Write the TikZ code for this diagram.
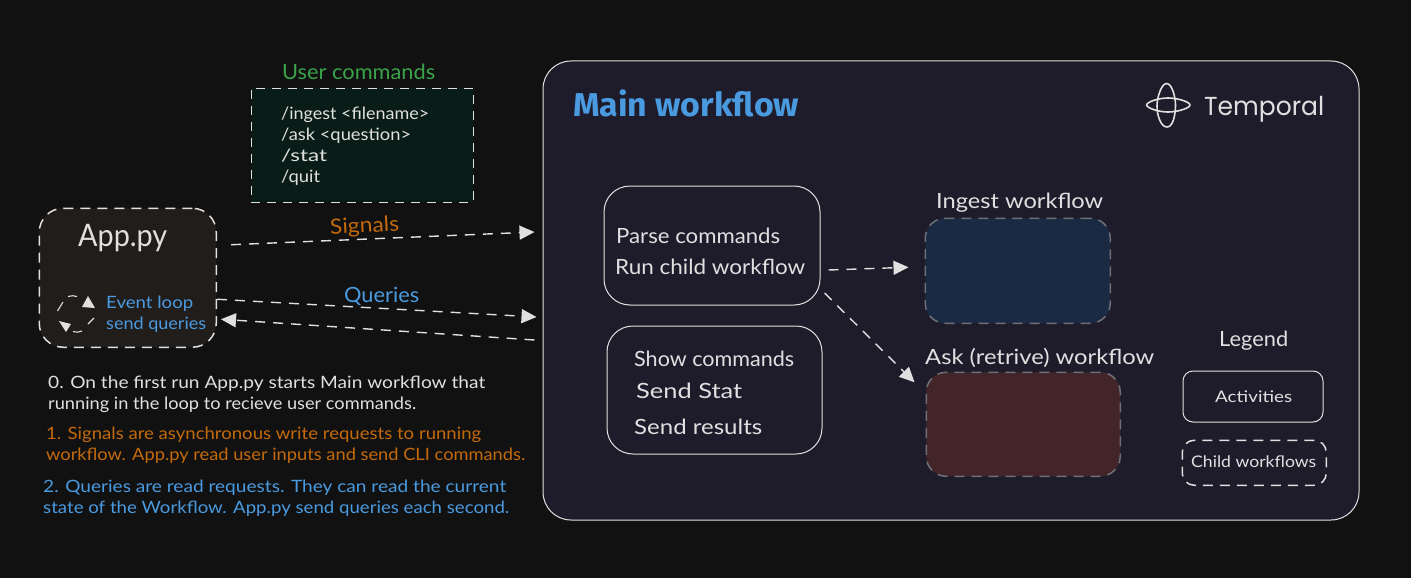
\documentclass[tikz,border=0pt]{standalone}
\usepackage{fontspec}
\usepackage{graphicx}
\setmainfont{Lato}
\newfontfamily\logofont{Poppins}
\newfontfamily\headfont{Fira Sans}
\usetikzlibrary{arrows.meta,calc}
\definecolor{bgc}{HTML}{111111}
\definecolor{ink}{HTML}{E0E0E0}
\definecolor{mainfill}{HTML}{1E1C2B}
\definecolor{appfill}{HTML}{211D1B}
\definecolor{cmdfill}{HTML}{0A1C17}
\definecolor{ingfill}{HTML}{1A2A42}
\definecolor{askfill}{HTML}{432529}
\definecolor{dashgray}{HTML}{6E7078}
\definecolor{blue}{HTML}{4A9AE0}
\definecolor{orange}{HTML}{C46A0C}
\definecolor{green}{HTML}{3AA34A}
\newcommand{\fw}[2]{\resizebox{#1pt}{\height}{\rule[-.25em]{0pt}{1em}#2}}
\tikzset{
  x=1pt,y=-1pt,
  box/.style={draw=ink,line width=1pt,rounded corners=26pt,anchor=north west,inner sep=0pt},
  dbox/.style={draw=ink,line width=1.5pt,dash pattern=on 10pt off 7pt,anchor=north west,inner sep=0pt},
  lbl/.style={anchor=west,inner sep=0pt,text=ink,yshift=-1pt},
  fs/.style={font=\fontsize{#1}{#1}\selectfont},
  conn/.style={draw=ink,line width=1.4pt,dash pattern=on 10pt off 8pt,
    -{Triangle[length=15pt,width=14pt,fill=ink,sep=0pt]}},
}
\begin{document}
\begin{tikzpicture}
\useasboundingbox (0,0) rectangle (1411,578);
\fill[bgc] (0,0) rectangle (1411,578);

% containers
\node[box,fill=mainfill,minimum width=816pt,minimum height=459pt,rounded corners=28pt] (main) at (542.5,60.5) {};
\node[dbox,fill=appfill,minimum width=177pt,minimum height=139pt,rounded corners=24pt] (app) at (38.5,207.5) {};
\node[dbox,dash pattern=on 9pt off 7pt,fill=cmdfill,minimum width=222pt,minimum height=114pt] (cmds) at (250.5,87.5) {};
\node[box,minimum width=216pt,minimum height=119pt] (parse) at (603.5,185.5) {};
\node[box,minimum width=215pt,minimum height=128pt] (show) at (606.5,325.5) {};
\node[dbox,draw=dashgray,fill=ingfill,minimum width=185pt,minimum height=105pt,rounded corners=20pt] (ingest) at (924.5,217.5) {};
\node[dbox,draw=dashgray,fill=askfill,minimum width=194pt,minimum height=104pt,rounded corners=20pt] (ask) at (925.5,371.5) {};
\node[box,minimum width=140pt,minimum height=51pt,rounded corners=10pt] (activities) at (1182.5,370.5) {};
\node[dbox,minimum width=144pt,minimum height=45pt,rounded corners=12pt] (child) at (1181.5,439.5) {};

% connectors
\draw[conn] ([shift={(14,-33)}]app.east) -- ([shift={(-8,-58.5)}]main.west);
\draw[conn] ([shift={(0,21.5)}]app.east) -- ([shift={(-6,26.5)}]main.west);
\draw[conn] ([shift={(-8,49.5)}]main.west) -- ([shift={(4,41.5)}]app.east);
\draw[conn] ([shift={(8,24.5)}]parse.east) -- ([shift={(-16,-3.5)}]ingest.west);
\draw[conn] ([shift={(4,47.5)}]parse.east) -- ([shift={(-11,-42)}]ask.west);

% event loop icon
\begin{scope}[draw=ink,line width=1.1pt]
\draw (57.5,311) -- (63,302);
\draw (68,296.5) .. controls (71,295.5) and (74,295.5) .. (77,296.5);
\draw (88,324) -- (94,318);
\draw (73,331.5) .. controls (76,332.5) and (79,332.5) .. (82,331);
\end{scope}
\fill[ink] (82,307) -- (95,308) -- (88,296) -- cycle;
\fill[ink] (59,321) -- (71,324) -- (66,332) -- cycle;

% logo
\begin{scope}[draw=ink,line width=1.6pt,line join=round]
\draw (1166.5,83.5) .. controls (1161,84) and (1157,98) .. (1157,106)
  .. controls (1157,116) and (1161,127) .. (1167,127)
  .. controls (1173,127) and (1175.5,115) .. (1175.5,105)
  .. controls (1175.5,97) and (1172,83.5) .. (1166.5,83.5) -- cycle;
\draw (1146.5,105) .. controls (1147,102) and (1158,98) .. (1168,98)
  .. controls (1178,98) and (1190,102) .. (1190,105)
  .. controls (1190,108) and (1178,112) .. (1168,112)
  .. controls (1158,112) and (1147,108) .. (1146.5,105) -- cycle;
\end{scope}
\node[lbl,fs=26] (temporal) at (1204,108) {\logofont\fw{120}{Temporal}};

% labels
\node[lbl,fs=21,text=green] (tcmd) at (282,73) {\fw{153}{User commands}};
\node[lbl,fs=17] (c1) at (281,114) {\fw{148}{/ingest <filename>}};
\node[lbl,fs=17] (c2) at (281,135) {\fw{130}{/ask <question>}};
\node[lbl,fs=17] (c3) at (281,156) {\fw{46}{/stat}};
\node[lbl,fs=17] (c4) at (281,177) {\fw{39}{/quit}};
\node[lbl,fs=31] (tapp) at (78,238) {\fw{89}{App.py}};
\node[lbl,fs=17,text=blue] (tev) at (106,303) {\fw{87}{Event loop}};
\node[lbl,fs=17,text=blue] (tsq) at (106,324) {\fw{100}{send queries}};
\node[lbl,fs=21,text=orange,rotate=3] (tsig) at (330,228) {\fw{69}{Signals}};
\node[lbl,fs=21,text=blue] (tq) at (344,296) {\fw{75}{Queries}};
\node[lbl,fs=33,text=blue] (tmain) at (573,106) {\headfont\bfseries\fw{226}{Main workflow}};
\node[lbl,fs=21] (p1) at (616,237) {\fw{164}{Parse commands}};
\node[lbl,fs=21] (p2) at (615,268) {\fw{190}{Run child workflow}};
\node[lbl,fs=21] (s1) at (634,360) {\fw{160}{Show commands}};
\node[lbl,fs=21] (s2) at (636,392) {\fw{106}{Send Stat}};
\node[lbl,fs=21] (s3) at (634,428) {\fw{128}{Send results}};
\node[lbl,fs=21] (ting) at (936,202) {\fw{167}{Ingest workflow}};
\node[lbl,fs=21] (task) at (925,358) {\fw{229}{Ask (retrive) workflow}};
\node[lbl,fs=21] (tleg) at (1219,340) {\fw{69}{Legend}};
\node[lbl,fs=16] (tact) at (1215,397) {\fw{77}{Activities}};
\node[lbl,fs=16] (tchild) at (1191,462) {\fw{125}{Child workflows}};
\node[lbl,fs=17] (n0a) at (48,383) {\fw{437}{0. On the first run App.py starts Main workflow that}};
\node[lbl,fs=17] (n0b) at (48,404) {\fw{368}{running in the loop to recieve user commands.}};
\node[lbl,fs=17,text=orange] (n1a) at (46,434) {\fw{435}{1. Signals are asynchronous write requests to running}};
\node[lbl,fs=17,text=orange] (n1b) at (46,455) {\fw{479}{workflow. App.py read user inputs and send CLI commands.}};
\node[lbl,fs=17,text=blue] (n2a) at (43,487) {\fw{463}{2. Queries are read requests. They can read the current}};
\node[lbl,fs=17,text=blue] (n2b) at (43,508) {\fw{466}{state of the Workflow. App.py send queries each second.}};
\end{tikzpicture}
\end{document}
